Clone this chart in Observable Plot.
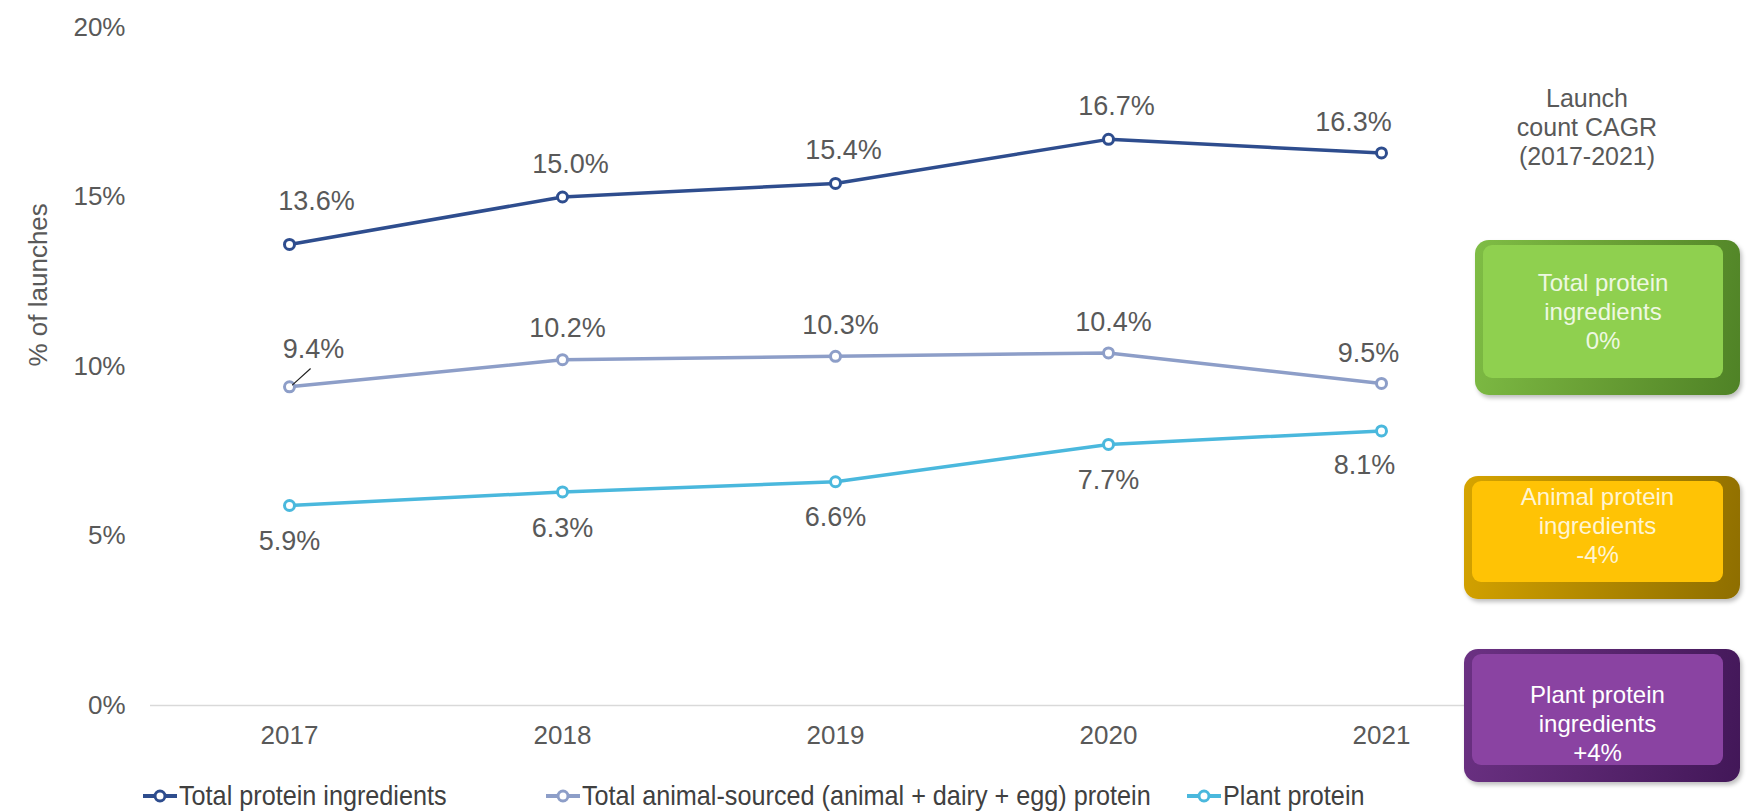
<!DOCTYPE html>
<html>
<head>
<meta charset="utf-8">
<script src="https://cdn.jsdelivr.net/npm/d3@7"></script>
<script src="https://cdn.jsdelivr.net/npm/@observablehq/plot@0.6"></script>
<style>
  body { margin: 0; background: #ffffff; font-family: "Liberation Sans", Arial, sans-serif; }
  #wrap { position: relative; width: 1748px; height: 812px; overflow: hidden; background: #fff; }
  #chart svg { display: block; }
  #legend { position: relative; width: 1748px; height: 40px; }
  .litem { position: absolute; top: 4px; height: 40px; display: flex; align-items: center; white-space: nowrap;
           font-size: 28px; color: #404040; }
  .litem svg { display: block; margin-right: 2px; }
  .litem span { display: inline-block; transform: scaleX(0.9); transform-origin: left center; }
  #cagrTitle { position: absolute; left: 1472px; width: 230px; top: 84px; text-align: center;
               font-size: 25px; line-height: 29px; color: #595959; }
  .cbox { position: absolute; border-radius: 14px; }
  .cbox .face { position: absolute; left: 8px; top: 5px; right: 17px; bottom: 17px; border-radius: 9px;
                display: flex; align-items: center; justify-content: center; text-align: center;
                font-size: 24px; line-height: 29px; }
</style>
</head>
<body>
<div id="wrap">
  <div id="chart"></div>
  <div id="legend"></div>
  <div id="cagrTitle"></div>
  <div id="boxes"></div>
</div>
<script>
// ---------- data ----------
const years = ["2017", "2018", "2019", "2020", "2021"];
const totalProtein  = [13.6, 15.0, 15.4, 16.7, 16.3];
const animalProtein = [9.4, 10.2, 10.3, 10.4, 9.5];
const plantProtein  = [5.9, 6.3, 6.6, 7.7, 8.1];
const seriesNames = [
  "Total protein ingredients",
  "Total animal-sourced (animal + dairy + egg) protein",
  "Plant protein"
];
const seriesColors = ["#2E4D8E", "#8D9EC8", "#4AB8DD"];
const yTicks = [0, 5, 10, 15, 20];
const yLabel = "% of launches";
const cagrTitle = ["Launch", "count CAGR", "(2017-2021)"];
const cagrNames = [["Total protein", "ingredients"], ["Animal protein", "ingredients"], ["Plant protein", "ingredients"]];
const cagrValues = ["0%", "-4%", "+4%"];

// ---------- table ----------
const seriesValues = [totalProtein, animalProtein, plantProtein];
const rows = [];
seriesValues.forEach((vals, si) => vals.forEach((v, i) => rows.push({series: seriesNames[si], si, year: years[i], yi: i, value: v})));
const fmt = d => d.value.toFixed(1) + "%";
const sel = (si, yis) => rows.filter(d => d.si === si && yis.includes(d.yi));

const textStyle = {fontSize: 27, fill: "#595959", fontFamily: "Liberation Sans, Arial, sans-serif"};
const lab = (data, dx, dy, extra = {}) => Plot.text(data, {x: "year", y: "value", text: fmt, dx, dy, lineAnchor: "middle", ...textStyle, ...extra});

const chart = Plot.plot({
  width: 1748,
  height: 772,
  marginLeft: 150,
  marginRight: 229,
  marginTop: 27,
  marginBottom: 67,
  style: {fontSize: "26px", fontFamily: "Liberation Sans, Arial, sans-serif", color: "#595959", background: "transparent"},
  x: {type: "point", domain: years, padding: 0.5, label: null, tickSize: 0, tickPadding: 20},
  y: {domain: [0, 20], ticks: yTicks, tickFormat: d => d + "%", label: null, tickSize: 0, tickPadding: 25},
  color: {domain: seriesNames, range: seriesColors},
  marks: [
    Plot.ruleY([0], {stroke: "#D9D9D9", strokeWidth: 1.5}),
    Plot.line(rows, {x: "year", y: "value", z: "series", stroke: "series", strokeWidth: 3.5}),
    Plot.dot(rows, {x: "year", y: "value", stroke: "series", fill: "white", r: 5, strokeWidth: 3}),
    Plot.vector(sel(1, [0]), {x: "year", y: "value", length: 24, rotate: 48, anchor: "start", r: 0, stroke: "#222", strokeWidth: 1.2, dx: 3, dy: -2}),
    // total protein labels (above)
    lab(sel(0, [0]), 27, -43),
    lab(sel(0, [1, 2, 3]), 8, -33),
    lab(sel(0, [4]), -28, -31),
    // animal labels (above)
    lab(sel(1, [0]), 24, -37),
    lab(sel(1, [1, 2, 3]), 5, -31),
    lab(sel(1, [4]), -13, -30),
    // plant labels (below)
    lab(sel(2, [0, 1, 2, 3]), 0, 36),
    lab(sel(2, [4]), -17, 34),
    // y axis title
    Plot.text([yLabel], {frameAnchor: "left", rotate: -90, dx: -112, ...textStyle, fontSize: 26})
  ]
});
document.getElementById("chart").appendChild(chart);

// ---------- legend ----------
const legend = document.getElementById("legend");
const legendX = [143, 546, 1187];
const legendW = [34, 34, 34];
seriesNames.forEach((name, i) => {
  const item = document.createElement("div");
  item.className = "litem";
  item.style.left = legendX[i] + "px";
  const w = legendW[i];
  item.innerHTML = `<svg width="${w}" height="20"><line x1="0" x2="${w}" y1="10" y2="10" stroke="${seriesColors[i]}" stroke-width="4"/>` +
    `<circle cx="${w / 2}" cy="10" r="5" fill="white" stroke="${seriesColors[i]}" stroke-width="3"/></svg><span>${name}</span>`;
  legend.appendChild(item);
});

// ---------- CAGR annotation ----------
document.getElementById("cagrTitle").innerHTML = cagrTitle.join("<br>");
const boxStyles = [
  {left: 1475, top: 240, width: 265, height: 155, shift: 0, outer: "linear-gradient(100deg,#7FBD45 0%,#6BA236 45%,#4F8226 100%)", face: "#8FD04F", text: "#EEF8E2"},
  {left: 1464, top: 476, width: 276, height: 123, shift: -6, outer: "linear-gradient(100deg,#D6A400 0%,#B58B00 45%,#8E6E00 100%)", face: "#FFC305", text: "#FFF5D2"},
  {left: 1464, top: 649, width: 276, height: 133, shift: 14, outer: "linear-gradient(100deg,#6B3183 0%,#5A2670 45%,#421758 100%)", face: "#8A43A2", text: "#FFFFFF"}
];
const boxes = document.getElementById("boxes");
boxStyles.forEach((b, i) => {
  const d = document.createElement("div");
  d.className = "cbox";
  Object.assign(d.style, {left: b.left + "px", top: b.top + "px", width: b.width + "px", height: b.height + "px", background: b.outer,
    boxShadow: "2px 3px 4px rgba(0,0,0,0.25)"});
  const f = document.createElement("div");
  f.className = "face";
  Object.assign(f.style, {background: b.face, color: b.text});
  const t = document.createElement("div");
  t.style.position = "relative";
  t.style.top = b.shift + "px";
  t.innerHTML = cagrNames[i].join("<br>") + "<br>" + cagrValues[i];
  f.appendChild(t);
  d.appendChild(f);
  boxes.appendChild(d);
});
</script>
</body>
</html>
